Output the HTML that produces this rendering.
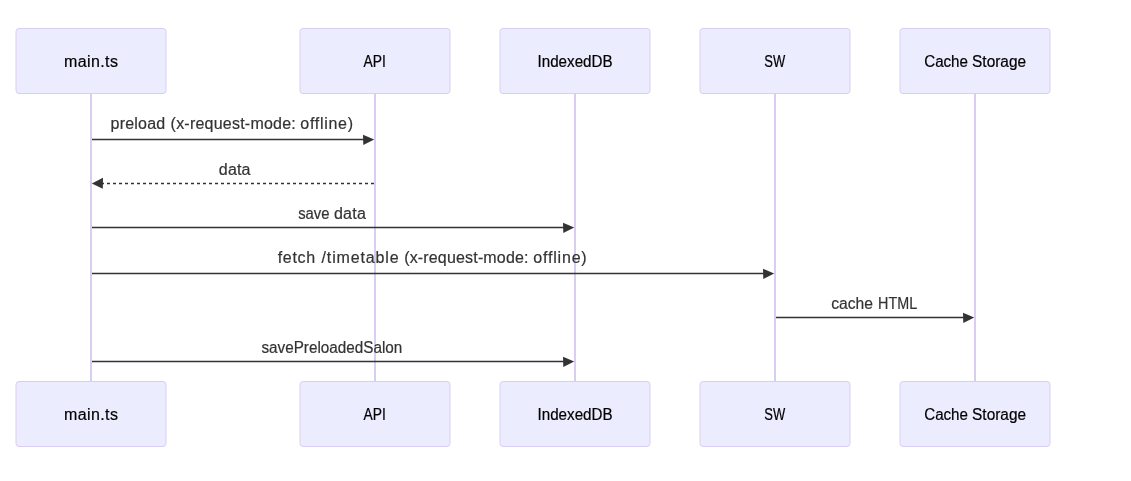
<!DOCTYPE html>
<html lang="en">
<head>
<meta charset="utf-8">
<title>Sequence diagram</title>
<style>
html,body{margin:0;padding:0;background:#fff;}
body{width:1131px;height:481px;overflow:hidden;}
svg{display:block;font-family:"Liberation Sans",sans-serif;will-change:transform;}
.actor{fill:#ececff;stroke:#d9cdf2;stroke-width:1px;}
.actor-line{stroke:#d9cdf2;stroke-width:2px;}
text{font-size:16px;white-space:pre;}
.atext{fill:#000;stroke:#000;stroke-width:0.2px;}
.mtext{fill:#333;stroke:#333;stroke-width:0.2px;}
.mline{stroke:#333;stroke-width:1.5px;fill:none;}
.mline.dash{stroke-dasharray:3 3;}
.head{fill:#333;stroke:none;}
</style>
</head>
<body>
<svg width="1131" height="481" viewBox="0 0 1131 481">

<line class="actor-line" x1="91" y1="94" x2="91" y2="381"/>
<line class="actor-line" x1="375" y1="94" x2="375" y2="381"/>
<line class="actor-line" x1="575" y1="94" x2="575" y2="381"/>
<line class="actor-line" x1="775" y1="94" x2="775" y2="381"/>
<line class="actor-line" x1="975" y1="94" x2="975" y2="381"/>
<rect class="actor" x="16" y="28.5" width="150" height="65" rx="3" ry="3"/>
<text class="atext" y="67.0"><tspan x="64.09" textLength="53.83" lengthAdjust="spacing">main.ts</tspan></text>
<rect class="actor" x="300" y="28.5" width="150" height="65" rx="3" ry="3"/>
<text class="atext" y="67.0"><tspan x="363.61" textLength="22.32" lengthAdjust="spacingAndGlyphs">API</tspan></text>
<rect class="actor" x="500" y="28.5" width="150" height="65" rx="3" ry="3"/>
<text class="atext" y="67.0"><tspan x="537.52" textLength="75.07" lengthAdjust="spacingAndGlyphs">IndexedDB</tspan></text>
<rect class="actor" x="700" y="28.5" width="150" height="65" rx="3" ry="3"/>
<text class="atext" y="67.0"><tspan x="764.33" textLength="20.88" lengthAdjust="spacingAndGlyphs">SW</tspan></text>
<rect class="actor" x="900" y="28.5" width="150" height="65" rx="3" ry="3"/>
<text class="atext" y="67.0"><tspan x="924.19" textLength="43.78" lengthAdjust="spacingAndGlyphs">Cache</tspan> <tspan x="972.12" textLength="53.89" lengthAdjust="spacingAndGlyphs">Storage</tspan></text>
<rect class="actor" x="16" y="381.5" width="150" height="65" rx="3" ry="3"/>
<text class="atext" y="420.0"><tspan x="64.09" textLength="53.83" lengthAdjust="spacing">main.ts</tspan></text>
<rect class="actor" x="300" y="381.5" width="150" height="65" rx="3" ry="3"/>
<text class="atext" y="420.0"><tspan x="363.61" textLength="22.32" lengthAdjust="spacingAndGlyphs">API</tspan></text>
<rect class="actor" x="500" y="381.5" width="150" height="65" rx="3" ry="3"/>
<text class="atext" y="420.0"><tspan x="537.52" textLength="75.07" lengthAdjust="spacingAndGlyphs">IndexedDB</tspan></text>
<rect class="actor" x="700" y="381.5" width="150" height="65" rx="3" ry="3"/>
<text class="atext" y="420.0"><tspan x="764.33" textLength="20.88" lengthAdjust="spacingAndGlyphs">SW</tspan></text>
<rect class="actor" x="900" y="381.5" width="150" height="65" rx="3" ry="3"/>
<text class="atext" y="420.0"><tspan x="924.19" textLength="43.78" lengthAdjust="spacingAndGlyphs">Cache</tspan> <tspan x="972.12" textLength="53.89" lengthAdjust="spacingAndGlyphs">Storage</tspan></text>
<line class="mline" x1="92" y1="139.5" x2="369" y2="139.5"/>
<path class="head" d="M374.2 139.6 L363 134.75 L363.3 145.0 Z"/>
<text class="mtext" y="129.0"><tspan x="110.55" textLength="54.63" lengthAdjust="spacing">preload</tspan> <tspan x="170.61" textLength="125.14" lengthAdjust="spacing">(x-request-mode:</tspan> <tspan x="300.29" textLength="52.69" lengthAdjust="spacing">offline)</tspan></text>
<line class="mline dash" x1="374" y1="183.5" x2="97" y2="183.5"/>
<path class="head" d="M91.8 183.5 L103 177.8 L102.8 188.85 Z"/>
<text class="mtext" y="175.0"><tspan x="218.87" textLength="31.50" lengthAdjust="spacing">data</tspan></text>
<line class="mline" x1="92" y1="227.5" x2="569" y2="227.5"/>
<path class="head" d="M574.2 227.6 L563 222.75 L563.3 233.0 Z"/>
<text class="mtext" y="219.0"><tspan x="298.20" textLength="31.32" lengthAdjust="spacingAndGlyphs">save</tspan> <tspan x="333.91" textLength="32.08" lengthAdjust="spacing">data</tspan></text>
<line class="mline" x1="92" y1="273.5" x2="769" y2="273.5"/>
<path class="head" d="M774.2 273.6 L763 268.75 L763.3 279.0 Z"/>
<text class="mtext" y="263.0"><tspan x="277.65" textLength="37.55" lengthAdjust="spacing">fetch</tspan> <tspan x="321.55" textLength="76.99" lengthAdjust="spacing">/timetable</tspan> <tspan x="404.14" textLength="124.40" lengthAdjust="spacing">(x-request-mode:</tspan> <tspan x="533.30" textLength="53.36" lengthAdjust="spacing">offline)</tspan></text>
<line class="mline" x1="776" y1="317.5" x2="969" y2="317.5"/>
<path class="head" d="M974.2 317.6 L963 312.75 L963.3 323.0 Z"/>
<text class="mtext" y="309.0"><tspan x="831.20" textLength="41.74" lengthAdjust="spacingAndGlyphs">cache</tspan> <tspan x="878.10" textLength="39.04" lengthAdjust="spacingAndGlyphs">HTML</tspan></text>
<line class="mline" x1="92" y1="361.5" x2="569" y2="361.5"/>
<path class="head" d="M574.2 361.6 L563 356.75 L563.3 367.0 Z"/>
<text class="mtext" y="353.0"><tspan x="261.45" textLength="140.87" lengthAdjust="spacingAndGlyphs">savePreloadedSalon</tspan></text>
</svg>
</body>
</html>
